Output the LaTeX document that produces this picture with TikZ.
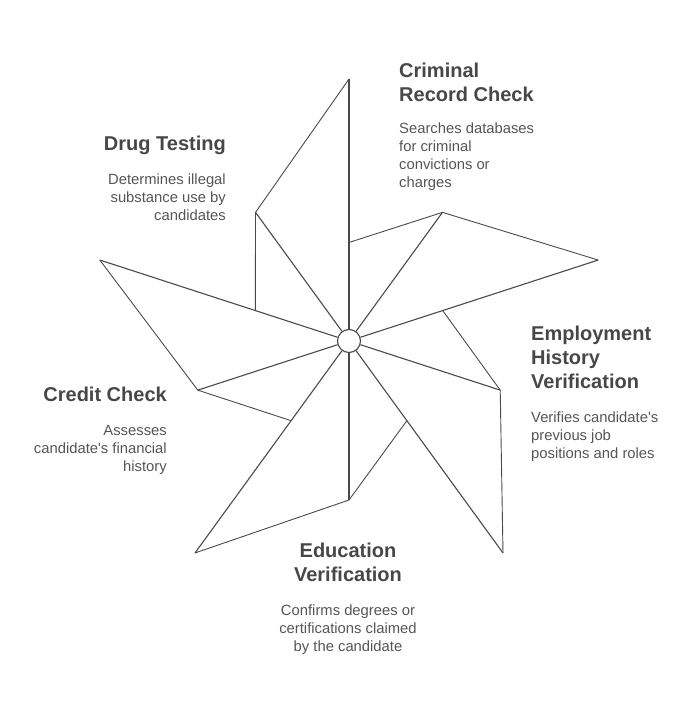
\documentclass[tikz,border=0pt]{standalone}
\usepackage{fontspec}
\setmainfont{Liberation Sans}
\usetikzlibrary{positioning}
\definecolor{inkgray}{HTML}{4A4A4A}
\definecolor{titlegray}{HTML}{474747}
\definecolor{descgray}{HTML}{555555}
\tikzset{
  blade/.style={draw=inkgray,line width=1.1pt},
  edge/.style={draw=inkgray,line width=0.9pt},
  title/.style={inner sep=0pt,text=titlegray,font=\fontsize{20}{24}\selectfont\bfseries},
  desc/.style={inner sep=0pt,text=descgray,font=\fontsize{14.8}{18}\selectfont}
}
\begin{document}
\begin{tikzpicture}[x=1pt,y=1pt]
      \useasboundingbox (-349,-378) rectangle (348,341);
      % hub
      \node[circle,draw=inkgray,line width=1.1pt,fill=white,minimum size=23pt,inner sep=0pt] (hub) at (0,0) {};
      % tips, folds and feet of the blades
      \coordinate (drugTip) at (90:262);
      \coordinate (drugFold) at (126:159);
      \coordinate (drugFoot) at (162:98.5);
      \coordinate (creditTip) at (162:262);
      \coordinate (creditFold) at (198:159);
      \coordinate (creditFoot) at (234:98.5);
      \coordinate (eduTip) at (234:262);
      \coordinate (eduFold) at (270:159);
      \coordinate (eduFoot) at (306:98.5);
      \coordinate (empTip) at (306:262);
      \coordinate (empFold) at (342:159);
      \coordinate (empFoot) at (18:98.5);
      \coordinate (crimTip) at (18:262);
      \coordinate (crimFold) at (54:159);
      \coordinate (crimFoot) at (90:98.5);
      % rays from the hub
      \draw[blade] (hub) -- (drugTip);
      \draw[blade] (hub) -- (drugFold);
      \draw[blade] (hub) -- (creditTip);
      \draw[blade] (hub) -- (creditFold);
      \draw[blade] (hub) -- (eduTip);
      \draw[blade] (hub) -- (eduFold);
      \draw[blade] (hub) -- (empTip);
      \draw[blade] (hub) -- (empFold);
      \draw[blade] (hub) -- (crimTip);
      \draw[blade] (hub) -- (crimFold);
      % outer edges
      \draw[edge] (drugTip) -- (drugFold) -- (drugFoot);
      \draw[edge] (creditTip) -- (creditFold) -- (creditFoot);
      \draw[edge] (eduTip) -- (eduFold) -- (eduFoot);
      \draw[edge] (empTip) -- (empFold) -- (empFoot);
      \draw[edge] (crimTip) -- (crimFold) -- (crimFoot);
      % labels
      \node[title,anchor=north west,align=left] (crimT) at (50,278.5) {Criminal\\Record Check};
      \node[desc,anchor=north west,align=left] (crimD) at (50,218.5) {Searches databases\\for criminal\\convictions or\\charges};
      \node[title,anchor=north east,align=right] (drugT) at (-123,205) {Drug Testing};
      \node[desc,anchor=north east,align=right] (drugD) at (-123,167) {Determines illegal\\substance use by\\candidates};
      \node[title,anchor=north west,align=left] (empT) at (182,15) {Employment\\History\\Verification};
      \node[desc,anchor=north west,align=left] (empD) at (182,-71) {Verifies candidate\textquotesingle s\\previous job\\positions and roles};
      \node[title,anchor=north east,align=right] (creditT) at (-182,-46) {Credit Check};
      \node[desc,anchor=north east,align=right] (creditD) at (-182,-84) {Assesses\\candidate\textquotesingle s financial\\history};
      \node[title,anchor=north,align=center] (eduT) at (-1,-202) {Education\\Verification};
      \node[desc,anchor=north,align=center] (eduD) at (-1,-264) {Confirms degrees or\\certifications claimed\\by the candidate};
    \end{tikzpicture}
\end{document}
